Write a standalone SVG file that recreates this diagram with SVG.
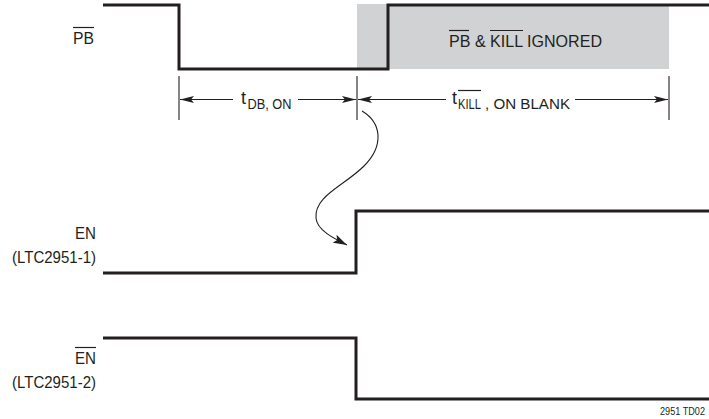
<svg xmlns="http://www.w3.org/2000/svg" width="709" height="419" viewBox="0 0 709 419">
<style>
.wave{fill:none;stroke:#231f20;stroke-width:3;stroke-linejoin:miter}
.dim{fill:none;stroke:#231f20;stroke-width:1.1}
.ol{stroke:#231f20;stroke-width:1.2}
text{font-family:"Liberation Sans",Arial,sans-serif;fill:#231f20}
.lbl{font-size:17px;text-anchor:end}
</style>
<defs>
<marker id="ah" markerUnits="userSpaceOnUse" markerWidth="15" markerHeight="8" refX="14" refY="4" orient="auto">
<path d="M0,0.5 L14,4 L0,7.5 L3,4 z" fill="#231f20"/>
</marker>
<marker id="ah2" markerUnits="userSpaceOnUse" markerWidth="15" markerHeight="10" refX="14" refY="5" orient="auto">
<path d="M0,0.5 L14,5 L0,9.5 L3,5 z" fill="#231f20"/>
</marker>
</defs>
<rect x="357" y="4" width="312" height="65" fill="#d1d2d3"/>
<g id="pb-label">
<text class="lbl" x="94" y="44" textLength="21" lengthAdjust="spacingAndGlyphs">PB</text>
<line class="ol" x1="73" y1="27.5" x2="94" y2="27.5"/>
</g>
<g id="ignored-label">
<text x="449" y="47" font-size="17" textLength="153" lengthAdjust="spacingAndGlyphs">PB &amp; KILL IGNORED</text>
<line class="ol" x1="449" y1="30.5" x2="469" y2="30.5"/>
<line class="ol" x1="490" y1="30.5" x2="523" y2="30.5"/>
</g>
<g id="en1-label">
<text class="lbl" x="96" y="239" textLength="21" lengthAdjust="spacingAndGlyphs">EN</text>
<text class="lbl" x="96" y="263" textLength="84" lengthAdjust="spacingAndGlyphs">(LTC2951-1)</text>
</g>
<g id="en2-label">
<text class="lbl" x="96" y="364" textLength="21" lengthAdjust="spacingAndGlyphs">EN</text>
<line class="ol" x1="75" y1="347.5" x2="96" y2="347.5"/>
<text class="lbl" x="96" y="388" textLength="84" lengthAdjust="spacingAndGlyphs">(LTC2951-2)</text>
</g>
<g id="waveforms">
<path id="pb-wave" class="wave" d="M103,5 H179 V69 H388 V5 H709"/>
<path id="en1-wave" class="wave" d="M103,273 H356 V211 H709"/>
<path id="en2-wave" class="wave" d="M103,338 H356 V399 H709"/>
</g>
<g id="connectors">
<line class="dim" x1="179" y1="76" x2="179" y2="120"/>
<line class="dim" x1="357" y1="76" x2="357" y2="120"/>
<line class="dim" x1="669" y1="76" x2="669" y2="120"/>
<line class="dim" x1="233" y1="99.5" x2="180" y2="99.5" marker-end="url(#ah)"/>
<line class="dim" x1="298" y1="99.5" x2="356" y2="99.5" marker-end="url(#ah)"/>
<line class="dim" x1="446" y1="99.5" x2="358" y2="99.5" marker-end="url(#ah)"/>
<line class="dim" x1="575" y1="99.5" x2="668" y2="99.5" marker-end="url(#ah)"/>
<path class="dim" d="M362,111 C382,123 384,146 364,166 C344,186 314,196 316,218 C317,230 333,238 347,245" marker-end="url(#ah2)"/>
</g>
<g id="tdb-label">
<text x="241" y="104" font-size="18">t</text>
<text x="247.5" y="108.5" font-size="14.5" textLength="44" lengthAdjust="spacingAndGlyphs">DB, ON</text>
</g>
<g id="tkill-label">
<text x="452" y="104" font-size="18">t</text>
<text x="458" y="108.5" font-size="14.5" textLength="23" lengthAdjust="spacingAndGlyphs">KILL</text>
<text x="485" y="108.5" font-size="14.5" textLength="85" lengthAdjust="spacingAndGlyphs">, ON BLANK</text>
<line class="ol" x1="458" y1="90.5" x2="481" y2="90.5"/>
</g>
<text id="fig-id" x="705" y="415" font-size="10" text-anchor="end" textLength="45" lengthAdjust="spacingAndGlyphs">2951 TD02</text>
</svg>
